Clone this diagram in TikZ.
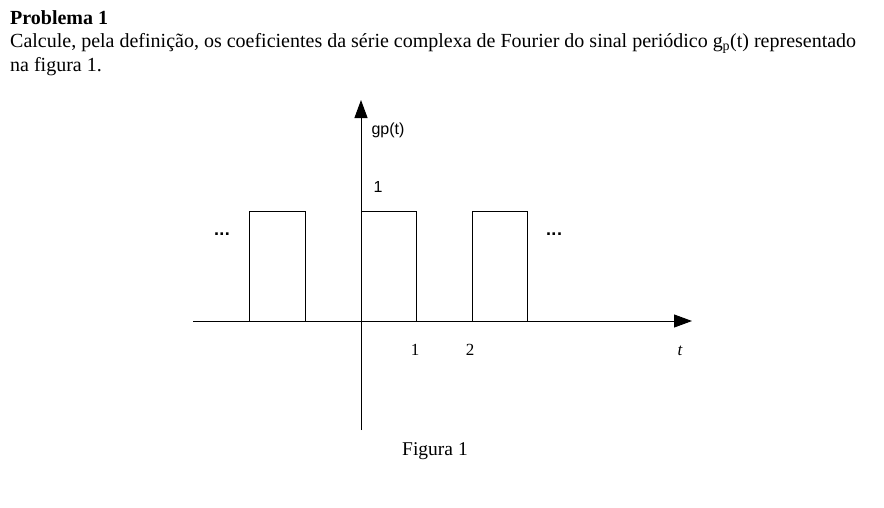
\documentclass[tikz,border=0pt]{standalone}
\usepackage{fontspec}
\setmainfont{Liberation Serif}
\newfontfamily\figsans{Liberation Sans}
\usetikzlibrary{arrows.meta}
\begin{document}
\begin{tikzpicture}[x=1pt,y=-1pt,
  axis/.style={line width=1pt,-{Triangle[length=18pt,width=13pt]}},
  pulse/.style={line width=0.9pt},
  txt/.style={inner sep=0pt,anchor=base west,font=\fontsize{20}{24}\selectfont},
  lbl/.style={inner sep=0pt,font=\figsans\fontsize{16}{18}\selectfont},
  dots/.style={inner sep=0pt,font=\figsans\bfseries\fontsize{18}{20}\selectfont},
  lblserif/.style={inner sep=0pt,font=\fontsize{17}{19}\selectfont}]
\useasboundingbox (0,0) rectangle (884,507);
\node[txt,font=\bfseries\fontsize{20}{24}\selectfont] (title) at (10,24) {Problema 1};
\node[txt] (line1) at (10,47) {Calcule, pela definição, os coeficientes da série complexa de Fourier do sinal periódico g\textsubscript{p}(t) representado};
\node[txt] (line2) at (10,71) {na figura 1.};
% axes
\coordinate (ybot) at (361,430);
\coordinate (ytop) at (361,100);
\coordinate (xl) at (193,321);
\coordinate (xr) at (692,321);
\draw[axis] (ybot) -- (ytop);
\draw[axis] (xl) -- (xr);
% pulses
\draw[pulse] (249,321) -- (249,211) -- (305,211) -- (305,321);
\draw[pulse] (361,211) -- (416,211) -- (416,321);
\draw[pulse] (472,321) -- (472,211) -- (527,211) -- (527,321);
% labels
\node[lbl] (gp) at (388,130) {gp(t)};
\node[lbl] (one) at (378,187) {1};
\node[dots] (dl) at (222,234) {.\kern0.5pt.\kern0.5pt.};
\node[dots] (dr) at (554,234) {.\kern0.5pt.\kern0.5pt.};
\node[lblserif] (t1) at (415,350) {1};
\node[lblserif] (t2) at (470,350) {2};
\node[lblserif,font=\itshape\fontsize{17}{19}\selectfont] (tt) at (680,351) {t};
\node[inner sep=0pt,font=\fontsize{19.5}{23}\selectfont] (fig) at (435,451) {Figura 1};
\end{tikzpicture}
\end{document}
